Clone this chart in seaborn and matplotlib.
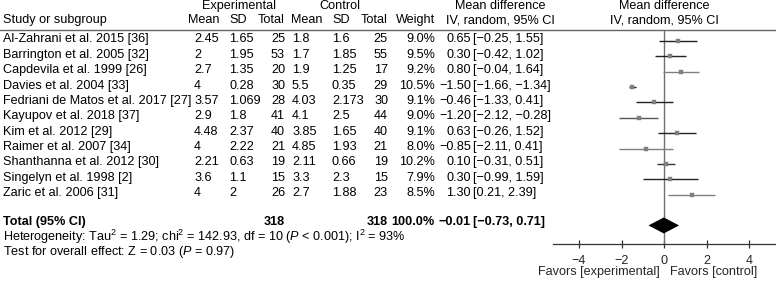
import numpy as np
import pandas as pd
import matplotlib
matplotlib.use('Agg')
import matplotlib.pyplot as plt
import matplotlib.transforms as mtransforms
from matplotlib.lines import Line2D
import seaborn as sns

studies = ['Al-Zahrani et al. 2015 [36]', 'Barrington et al. 2005 [32]',
           'Capdevila et al. 1999 [26]', 'Davies et al. 2004 [33]',
           'Fedriani de Matos et al. 2017 [27]', 'Kayupov et al. 2018 [37]',
           'Kim et al. 2012 [29]', 'Raimer et al. 2007 [34]',
           'Shanthanna et al. 2012 [30]', 'Singelyn et al. 1998 [2]',
           'Zaric et al. 2006 [31]']
exp_mean = [2.45, 2, 2.7, 4, 3.57, 2.9, 4.48, 4, 2.21, 3.6, 4]
exp_sd = [1.65, 1.95, 1.35, 0.28, 1.069, 1.8, 2.37, 2.22, 0.63, 1.1, 2]
exp_n = [25, 53, 20, 30, 28, 41, 40, 21, 19, 15, 26]
ctl_mean = [1.8, 1.7, 1.9, 5.5, 4.03, 4.1, 3.85, 4.85, 2.11, 3.3, 2.7]
ctl_sd = [1.6, 1.85, 1.25, 0.35, 2.173, 2.5, 1.65, 1.93, 0.66, 2.3, 1.88]
ctl_n = [25, 55, 17, 29, 30, 44, 40, 21, 19, 15, 23]
weight = [9.0, 9.5, 9.2, 10.5, 9.1, 9.0, 9.1, 8.0, 10.2, 7.9, 8.5]
md = [0.65, 0.30, 0.80, -1.50, -0.46, -1.20, 0.63, -0.85, 0.10, 0.30, 1.30]
md_lo = [-0.25, -0.42, -0.04, -1.66, -1.33, -2.12, -0.26, -2.11, -0.31, -0.99, 0.21]
md_hi = [1.55, 1.02, 1.64, -1.34, 0.41, -0.28, 1.52, 0.41, 0.51, 1.59, 2.39]
line_col = ['#222222', '#222222', '#808080', '#222222', '#222222', '#555555',
            '#222222', '#808080', '#333333', '#222222', '#808080']

tot_exp_n, tot_ctl_n, tot_weight = 318, 318, 100.0
tot_md, tot_lo, tot_hi = -0.01, -0.73, 0.71
xticks = [-4, -2, 0, 2, 4]

df = pd.DataFrame({'study': studies, 'md': md, 'lo': md_lo, 'hi': md_hi,
                   'row': np.arange(len(studies))})

sns.set_theme(style='white')
plt.rcParams['font.family'] = ['Liberation Sans', 'DejaVu Sans']
plt.rcParams['mathtext.fontset'] = 'custom'
plt.rcParams['mathtext.rm'] = 'Liberation Sans'
plt.rcParams['mathtext.it'] = 'Liberation Sans:italic'
plt.rcParams['axes.unicode_minus'] = True
FS = 9.1

W, H = 776, 283
fig = plt.figure(figsize=(W / 100, H / 100), dpi=100)

# rows: pixel y = 41 + 15.37 * row
def rowpix(p):
    return (p - 41) / 15.37

ytop, ybot = rowpix(30), rowpix(244)
ax = fig.add_axes([553 / W, 1 - 244 / H, 1 - 553 / W, (244 - 30) / H])
ax.set_xlim((553 - 664) / 21.25, (776 - 664) / 21.25)
ax.set_ylim(ybot, ytop)

# CI lines and squares
for i, r in df.iterrows():
    ax.plot([r['lo'], r['hi']], [r['row'], r['row']], color=line_col[i], lw=1.0,
            solid_capstyle='butt', zorder=2)
sns.scatterplot(data=df, x='md', y='row', marker='s', s=12, color='#7f7f7f',
                edgecolor='#7f7f7f', linewidth=0.3, ax=ax, zorder=3, legend=False)

# diamond for total
tot_row = 12
ax.fill([tot_lo, tot_md, tot_hi, tot_md], [tot_row, tot_row - 0.52, tot_row, tot_row + 0.52],
        color='black', zorder=4, lw=0)
ax.axvline(0, color='#707070', lw=1.0, zorder=1)

for s in ['top', 'right', 'left']:
    ax.spines[s].set_visible(False)
ax.spines['bottom'].set_color('#333333')
ax.spines['bottom'].set_linewidth(0.9)
ax.set_xticks(xticks)
ax.set_xticklabels([f'{t:d}'.replace('-', '\u2212') for t in xticks])
ax.set_yticks([])
ax.tick_params(axis='x', direction='inout', length=5.5, width=0.9, color='#333333',
               pad=5, labelsize=FS, bottom=True)
ax.set_xlabel('')
ax.set_ylabel('')
ax.patch.set_alpha(0)

# header line across the full width
fig.add_artist(Line2D([0, 1], [1 - 30 / H, 1 - 30 / H], transform=fig.transFigure,
                      color='#666666', lw=1.0))

tr = mtransforms.blended_transform_factory(fig.transFigure, ax.transData)

def put(xpix, y, s, ha='left', bold=False):
    fig.text(xpix / W, y, s, transform=tr, ha=ha, va='center', fontsize=FS,
             fontweight='bold' if bold else 'normal', color='black')

def fmt(v):
    return f'{v:.2f}'.replace('-', '\u2212')

h1, h2 = -2.3, -1.35
put(239, h1, 'Experimental', ha='center')
put(340, h1, 'Control', ha='center')
put(500, h1, 'Mean difference', ha='center')
put(664, h1, 'Mean difference', ha='center')
put(3, h2, 'Study or subgroup')
put(188, h2, 'Mean')
put(229, h2, 'SD')
put(285, h2, 'Total', ha='right')
put(291, h2, 'Mean')
put(332, h2, 'SD')
put(388, h2, 'Total', ha='right')
put(435, h2, 'Weight', ha='right')
put(500, h2, 'IV, random, 95% CI', ha='center')
put(664, h2, 'IV, random, 95% CI', ha='center')

for i in range(len(studies)):
    y = i - 0.1
    put(3, y, studies[i])
    put(194, y, f'{exp_mean[i]:g}')
    put(229, y, f'{exp_sd[i]:g}')
    put(285, y, f'{exp_n[i]}', ha='right')
    put(292, y, f'{ctl_mean[i]:g}')
    put(332, y, f'{ctl_sd[i]:g}')
    put(388, y, f'{ctl_n[i]}', ha='right')
    put(435, y, f'{weight[i]:.1f}%', ha='right')
    put(471, y, fmt(md[i]), ha='right')
    put(473, y, f'[{fmt(md_lo[i])}, {fmt(md_hi[i])}]')

yt = tot_row - 0.2
put(3, yt, 'Total (95% CI)', bold=True)
put(285, yt, f'{tot_exp_n}', ha='right', bold=True)
put(388, yt, f'{tot_ctl_n}', ha='right', bold=True)
put(435, yt, f'{tot_weight:.1f}%', ha='right', bold=True)
put(471, yt, fmt(tot_md), ha='right', bold=True)
put(473, yt, f'[{fmt(tot_lo)}, {fmt(tot_hi)}]', bold=True)

put(3, 12.72, 'Heterogeneity: Tau$^2$ = 1.29; chi$^2$ = 142.93, df = 10 ($P$ < 0.001); I$^2$ = 93%')
put(3, 13.75, 'Test for overall effect: Z = 0.03 ($P$ = 0.97)')

fig.text(660 / W, 1 - 272.5 / H, 'Favors [experimental]', ha='right', va='center', fontsize=FS)
fig.text(670 / W, 1 - 272.5 / H, 'Favors [control]', ha='left', va='center', fontsize=FS)

fig.savefig('out.png', dpi=100)
